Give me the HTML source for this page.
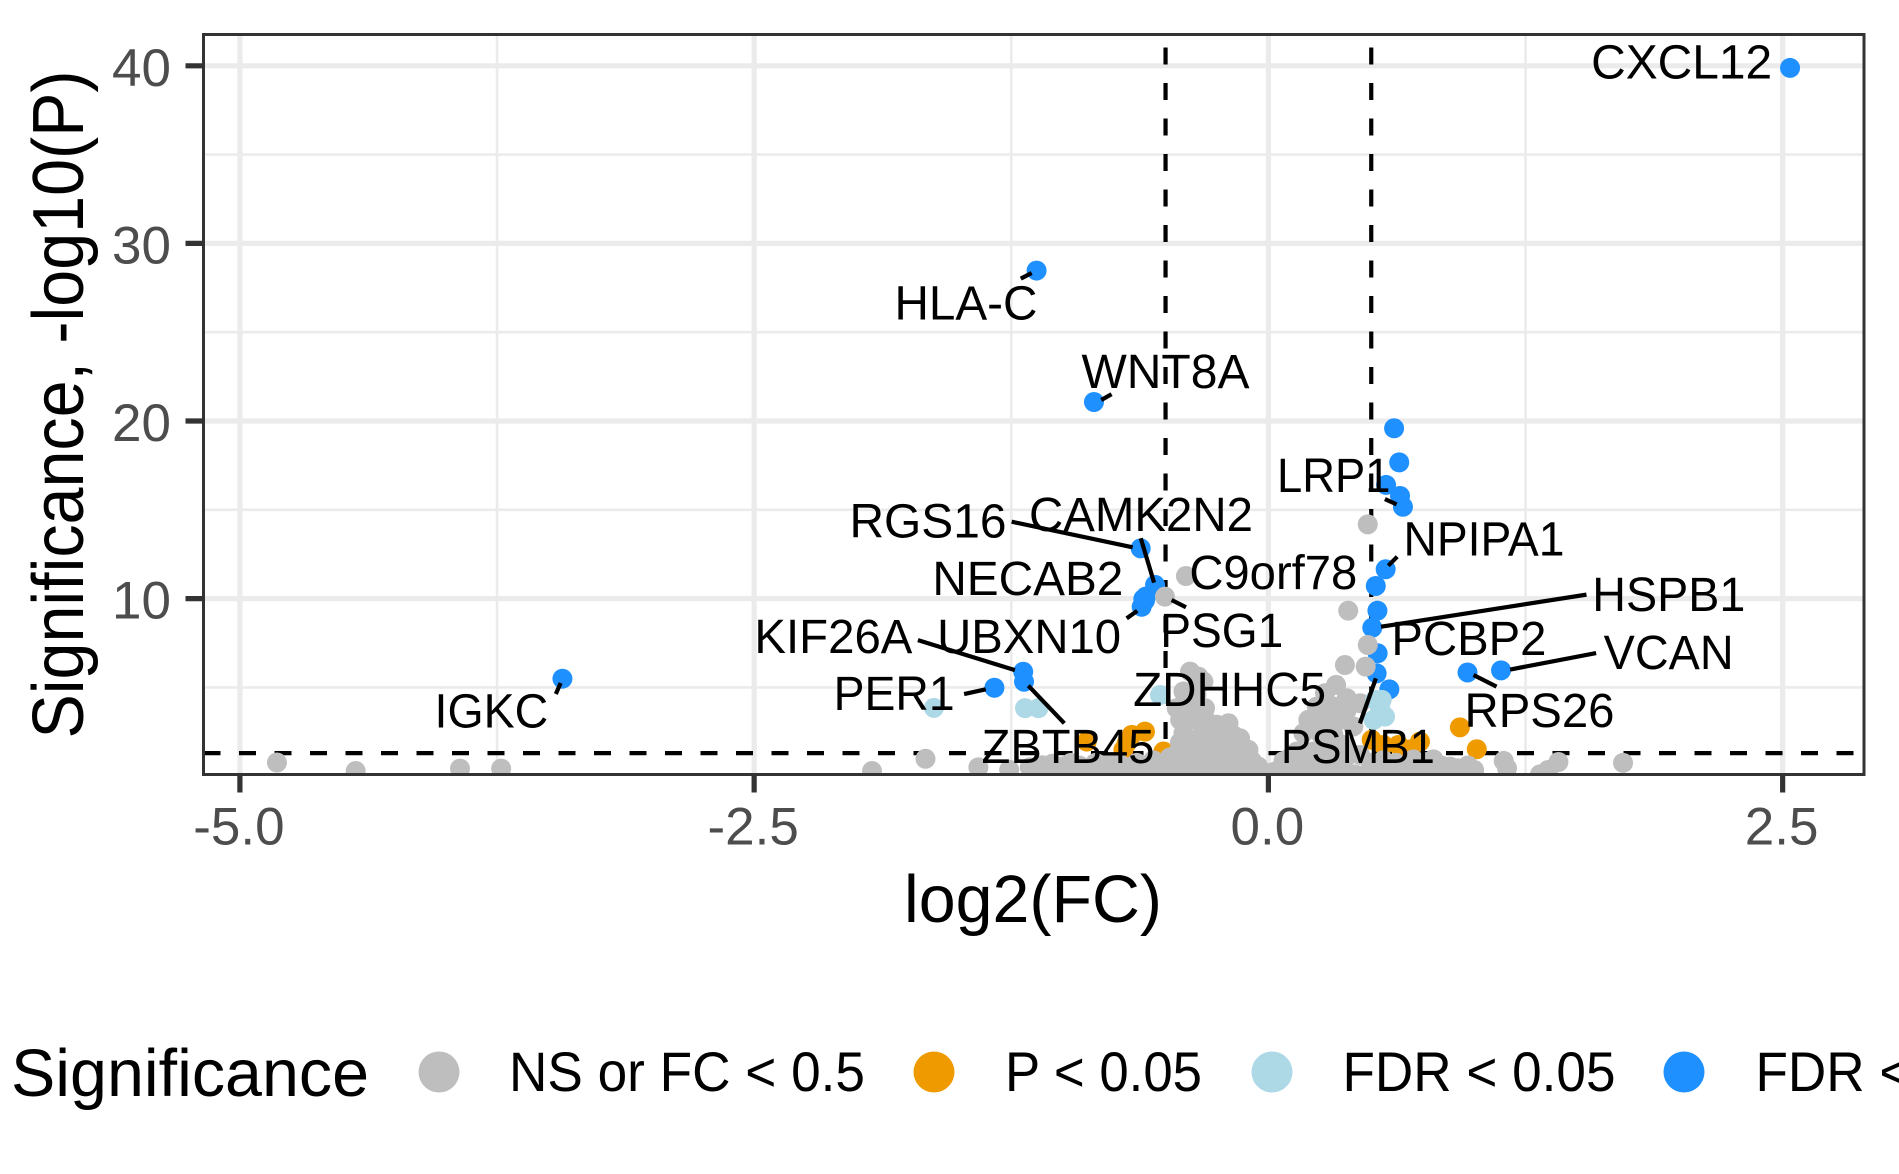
<!DOCTYPE html>
<html lang="en">
<head>
<meta charset="utf-8">
<title>Volcano plot</title>
<style>
html,body{margin:0;padding:0;background:#fff;width:1899px;height:1174px;overflow:hidden}
svg{display:block}
text{font-family:"Liberation Sans",sans-serif}
</style>
</head>
<body>
<svg id="chart" xmlns="http://www.w3.org/2000/svg" width="1899" height="1174" viewBox="0 0 1899 1174">
  <defs><clipPath id="panel-clip"><rect x="203.5" y="34.5" width="1660.5" height="740"/></clipPath></defs>
  <rect x="0" y="0" width="1899" height="1174" fill="#fff"/>
  <g id="grid"></g>
  <g id="thresholds" clip-path="url(#panel-clip)"></g>
  <g id="points" clip-path="url(#panel-clip)"></g>
  <rect x="203.5" y="34.5" width="1660.5" height="740" fill="none" stroke="#333" stroke-width="3"/>
  <g id="repel"></g>
  <g id="axes"></g>
  <text x="904" y="922" font-size="67" textLength="258" lengthAdjust="spacingAndGlyphs" fill="#000">log2(FC)</text>
  <text transform="translate(83,738.5) rotate(-90)" x="0" y="0" font-size="72" textLength="668" lengthAdjust="spacingAndGlyphs" fill="#000">Significance, -log10(P)</text>
  <g>
    <text x="11" y="1096" font-size="67" textLength="358" lengthAdjust="spacingAndGlyphs" fill="#000">Significance</text>
    <circle cx="439" cy="1072" r="20.5" fill="#bebebe"/>
    <text x="509" y="1091" font-size="56" textLength="356" lengthAdjust="spacingAndGlyphs" fill="#000">NS or FC &lt; 0.5</text>
    <circle cx="934" cy="1072" r="20.5" fill="#ef9b00"/>
    <text x="1005" y="1091" font-size="56" textLength="197" lengthAdjust="spacingAndGlyphs" fill="#000">P &lt; 0.05</text>
    <circle cx="1272" cy="1072" r="20.5" fill="#add8e6"/>
    <text x="1342.5" y="1091" font-size="56" textLength="273" lengthAdjust="spacingAndGlyphs" fill="#000">FDR &lt; 0.05</text>
    <circle cx="1684" cy="1072" r="20.5" fill="#1e90ff"/>
    <text x="1755.5" y="1091" font-size="56" textLength="273" lengthAdjust="spacingAndGlyphs" fill="#000">FDR &lt; 0.01</text>
  </g>
</svg>
<script>
// ---- Chart data (log2 fold change, -log10 P) ----
const xTicks = [-5, -2.5, 0, 2.5];
const xTickLabels = ['-5.0', '-2.5', '0.0', '2.5'];
const xMinorTicks = [-3.75, -1.25, 1.25];
const yTicks = [10, 20, 30, 40];
const yTickLabels = ['10', '20', '30', '40'];
const yMinorTicks = [5, 15, 25, 35];
const fcThresholds = [-0.5, 0.5];
const pThreshold = 1.3;

const labeledGenes = ['CXCL12','HLA-C','WNT8A','LRP1','CAMK2N2','RGS16','NPIPA1','HSPB1','VCAN','RPS26','PCBP2','NECAB2','UBXN10','PSG1','C9orf78','KIF26A','ZBTB45','PER1','IGKC','ZDHHC5','PSMB1'];
const labeledFc = [2.536,-1.127,-0.848,0.654,-0.551,-0.621,0.570,0.505,1.131,0.968,0.531,-0.608,-0.616,-0.503,-0.401,-1.192,-1.188,-1.332,-3.432,-0.527,0.526];
const labeledP = [39.88,28.47,21.07,15.17,10.77,12.83,11.65,8.36,5.96,5.84,6.92,9.98,9.54,10.11,11.27,5.88,5.32,4.98,5.49,4.57,5.79];
const labeledSeries = ['fdr01','fdr01','fdr01','fdr01','fdr01','fdr01','fdr01','fdr01','fdr01','fdr01','fdr01','fdr01','fdr01','ns','ns','fdr01','fdr01','fdr01','fdr01','fdr05under','fdr01'];

const fdr01Points = [[0.611,19.59],[0.636,17.67],[0.572,16.4],[0.64,15.78],[0.522,10.71],[0.53,9.32],[0.588,4.89],[-0.596,10.11],[-0.6,9.9]];
const pPoints = [[0.931,2.75],[1.013,1.52],[0.502,2.05],[0.559,1.76],[0.632,1.76],[0.737,1.95],[0.68,1.5],[-0.883,1.95],[-0.6,2.51],[-0.664,2.33],[-0.705,1.48],[-0.51,1.39],[-0.689,1.86]];
const fdr05UnderPoints = [[-1.183,3.83],[-1.118,3.83],[-1.626,3.85]];
const fdr05OverPoints = [[0.551,4.3],[0.519,4.3],[0.567,3.36],[0.511,3.17],[0.543,3.83]];
const nsPoints = [
  [-4.82,0.77],[-4.437,0.29],[-3.93,0.43],[-3.73,0.43],[-1.927,0.29],[-1.667,0.98],[-1.41,0.5],[-1.26,0.36],
  [0.483,14.18],[0.388,9.32],[0.483,7.39],[0.372,6.26],[0.473,6.17],
  [-0.381,5.89],[-0.34,5.61],[-0.316,5.33],[-0.413,4.77],[-0.387,4.48],[-0.446,3.83],[-0.308,3.83],[-0.357,3.92],[-0.4,4.1],[-0.35,4.6],
  [-0.429,3.17],[-0.194,2.98],[-0.413,2.42],[-0.316,2.8],[-0.251,2.51],[-0.138,2.14],[-0.405,2.98],[-0.36,3.2],[-0.3,3.1],[-0.25,2.9],
  [-0.3,1.86],[-0.203,1.86],[-0.097,1.48],[-0.381,1.48],[-0.446,1.25],[-0.33,2.2],[-0.26,2.1],[-0.17,2.3],[-0.34,1.5],[-0.26,1.5],[-0.15,1.55],[-0.43,1.9],
  [-1.16,0.5],[-1.1,0.62],[-1.05,0.7],[-1.0,0.55],[-0.96,0.75],[-0.92,0.6],[-0.88,0.45],[-0.84,0.75],[-0.8,0.6],[-0.76,0.8],[-0.72,0.65],[-0.68,0.5],[-0.64,0.75],[-0.6,0.6],[-0.56,0.9],[-0.52,0.7],[-0.48,1.05],[-0.44,0.8],[-0.4,1.2],[-0.36,0.9],[-0.32,1.2],[-0.28,0.85],[-0.24,1.2],[-0.2,0.95],[-0.16,1.2],[-0.12,0.8],[-0.08,0.85],[-0.05,0.55],[-0.02,0.22],
  [-1.14,0.12],[-1.08,0.18],[-1.02,0.1],[-0.96,0.16],[-0.9,0.1],[-0.84,0.15],[-0.78,0.12],[-0.72,0.18],[-0.66,0.1],[-0.6,0.16],[-0.54,0.1],[-0.48,0.2],[-0.42,0.12],[-0.36,0.2],[-0.3,0.1],[-0.24,0.18],[-0.18,0.1],[-0.12,0.15],[-0.06,0.08],[0,0.05],
  [0.329,5.14],[0.381,4.39],[0.275,4.67],[0.446,4.11],[0.235,3.92],[0.316,3.92],[0.275,3.6],[0.38,3.7],[0.194,3.17],[0.267,3.17],[0.348,3.17],[0.413,2.8],[0.17,2.42],[0.251,2.42],[0.316,2.33],[0.22,2.8],[0.365,1.76],[0.284,1.58],[0.219,1.39],[0.138,1.39],[0.1,1.0],[0.073,0.85],[0.446,1.2],[0.38,1.1],[0.559,0.9],[0.62,0.75],[0.705,0.95],[0.77,0.8],[0.802,0.95],[0.883,0.54],
  [0.03,0.25],[0.08,0.45],[0.14,0.7],[0.2,0.85],[0.26,0.95],[0.32,0.9],[0.5,0.75],[0.56,0.5],[0.66,0.45],[0.72,0.5],[0.84,0.6],[0.92,0.45],[0.97,0.6],[1.0,0.35],
  [0.06,0.1],[0.12,0.15],[0.18,0.1],[0.24,0.18],[0.3,0.1],[0.36,0.15],[0.42,0.1],[0.48,0.15],[0.54,0.1],[0.6,0.15],[0.66,0.1],[0.72,0.15],[0.78,0.1],[0.84,0.15],[0.9,0.1],[0.96,0.12],
  [1.144,0.86],[1.16,0.45],[1.41,0.8],[1.36,0.35],[1.32,0.1],[1.724,0.75]
];

// ---- Layout of repelled labels, relative to each labelled point (pixels) ----
const labelLayout = {
  'CXCL12':  {dx:-198.9, dy:10.5,  w:181},
  'HLA-C':   {dx:-142.1, dy:49,    w:143,   seg:[-4.9,2.4,-15.8,8.1]},
  'WNT8A':   {dx:-12.5,  dy:-14,   w:168,   seg:[7.3,-2,17.6,-7.8]},
  'LRP1':    {dx:-125.9, dy:-14.9, w:113.4, seg:[-6.3,-2.4,-18,-7.7]},
  'CAMK2N2': {dx:-126,   dy:-54,   w:224,   seg:[-1,-2.3,-14.3,-46.7]},
  'RGS16':   {dx:-291.2, dy:-10.6, w:157,   seg:[-8,-1,-129,-26.6]},
  'NPIPA1':  {dx:17.8,   dy:-13.6, w:161,   seg:[2.6,-3.6,11.6,-12.6]},
  'HSPB1':   {dx:220,    dy:-16.7, w:153,   seg:[8.7,-1,214.2,-33.1]},
  'VCAN':    {dx:102.6,  dy:-1.5,  w:130,   seg:[9.1,-0.8,95.1,-17.3]},
  'RPS26':   {dx:-3,     dy:54.5,  w:150,   seg:[6,2.5,29,14.2]},
  'PCBP2':   {dx:13.8,   dy:1.7,   w:155},
  'NECAB2':  {dx:-211,   dy:-4,    w:191},
  'UBXN10':  {dx:-204.6, dy:46.3,  w:184,   seg:[-4.4,4,-15,11.6]},
  'PSG1':    {dx:-4.7,   dy:50.6,  w:123,   seg:[6.7,3.3,21,10.6]},
  'C9orf78': {dx:3.4,    dy:13,    w:168},
  'KIF26A':  {dx:-268.8, dy:-18.7, w:158,   seg:[-8.3,-1.7,-105.3,-31.7]},
  'ZBTB45':  {dx:-42.5,  dy:81.3,  w:173,   seg:[4.3,4,40.3,41.6]},
  'PER1':    {dx:-160.8, dy:22.3,  w:121,   seg:[-8.6,1.6,-30.3,6.3]},
  'IGKC':    {dx:-127.9, dy:48.7,  w:113.7, seg:[-1.8,4.3,-6.6,15.3]},
  'ZDHHC5':  {dx:-26.9,  dy:11,    w:193},
  'PSMB1':   {dx:-95.7,  dy:89.7,  w:154,   seg:[-0.7,5,-16.7,50]}
};

// ---- Axis functions ----
const panel = {left:203.5, right:1864, top:34.5, bottom:774.5};
function xScale(v){ return 1268.4 + v * 205.7; }
function yScale(v){ return 776.2 - v * 17.76; }

const NS = 'http://www.w3.org/2000/svg';
function make(tag, parent, attrs){
  const el = document.createElementNS(NS, tag);
  for (const k in attrs) el.setAttribute(k, attrs[k]);
  parent.appendChild(el);
  return el;
}

// Grid
const gridG = document.getElementById('grid');
xMinorTicks.forEach(function(t){
  const el = make('line', gridG, {x1:xScale(t), x2:xScale(t), y1:panel.top, y2:panel.bottom, stroke:'#ebebeb', 'stroke-width':2.6});
  
  
});
yMinorTicks.forEach(function(t){
  const el = make('line', gridG, {x1:panel.left, x2:panel.right, y1:yScale(t), y2:yScale(t), stroke:'#ebebeb', 'stroke-width':2.6});
  
  
});
xTicks.forEach(function(t){
  const el = make('line', gridG, {x1:xScale(t), x2:xScale(t), y1:panel.top, y2:panel.bottom, stroke:'#ebebeb', 'stroke-width':5.2});
  
  
});
yTicks.forEach(function(t){
  const el = make('line', gridG, {x1:panel.left, x2:panel.right, y1:yScale(t), y2:yScale(t), stroke:'#ebebeb', 'stroke-width':5.2});
  
  
});

// Threshold lines
const thrG = document.getElementById('thresholds');
fcThresholds.forEach(function(t){
  const el = make('line', thrG, {x1:xScale(t), x2:xScale(t), y1:panel.bottom, y2:panel.top, stroke:'#000', 'stroke-width':4.2, 'stroke-dasharray':'17 18.5'});
  
  
});
const hLine = make('line', thrG, {x1:panel.left, x2:panel.right, y1:yScale(pThreshold), y2:yScale(pThreshold), stroke:'#000', 'stroke-width':4.2, 'stroke-dasharray':'17 18.5'});



// Points, in the stacking order seen in the picture
const seriesColors = {fdr01:'#1e90ff', p:'#ef9b00', fdr05under:'#add8e6', ns:'#bebebe', fdr05over:'#add8e6'};
const seriesPoints = {fdr01:fdr01Points, p:pPoints, fdr05under:fdr05UnderPoints, ns:nsPoints, fdr05over:fdr05OverPoints};
const seriesOrder = ['fdr01','p','fdr05under','ns','fdr05over'];
const pointsG = document.getElementById('points');
seriesOrder.forEach(function(key){
  const pts = seriesPoints[key].slice();
  labeledGenes.forEach(function(g, i){
    if (labeledSeries[i] === key) pts.push([labeledFc[i], labeledP[i]]);
  });
  pts.forEach(function(d){
    const c = make('circle', pointsG, {cx:xScale(d[0]), cy:yScale(d[1]), r:10, fill:seriesColors[key]});
    
    
  });
});

// Labels and connectors
const repelG = document.getElementById('repel');
labeledGenes.forEach(function(g, i){
  const px = xScale(labeledFc[i]);
  const py = yScale(labeledP[i]);
  const L = labelLayout[g];
  if (L.seg) {
    const s = make('line', repelG, {x1:px + L.seg[0], y1:py + L.seg[1], x2:px + L.seg[2], y2:py + L.seg[3], stroke:'#000', 'stroke-width':4.2});
    
    
  }
  const t = make('text', repelG, {x:px + L.dx, y:py + L.dy, 'font-size':48, fill:'#000', textLength:L.w, lengthAdjust:'spacingAndGlyphs'});
  t.textContent = g;
  
  
});

// Axes
const axesG = document.getElementById('axes');
xTicks.forEach(function(t, i){
  const tick = make('line', axesG, {x1:xScale(t), x2:xScale(t), y1:panel.bottom, y2:792.5, stroke:'#333', 'stroke-width':5.2});
  
  
  const lab = make('text', axesG, {x:xScale(t) - 1, y:844.5, 'font-size':53, fill:'#4d4d4d', 'text-anchor':'middle'});
  lab.textContent = xTickLabels[i];
  
  
});
yTicks.forEach(function(t, i){
  const tick = make('line', axesG, {x1:185.5, x2:panel.left, y1:yScale(t), y2:yScale(t), stroke:'#333', 'stroke-width':5.2});
  
  
  const lab = make('text', axesG, {x:171, y:yScale(t) + 20, 'font-size':53, fill:'#4d4d4d', 'text-anchor':'end'});
  lab.textContent = yTickLabels[i];
  
  
});
</script>
</body>
</html>
